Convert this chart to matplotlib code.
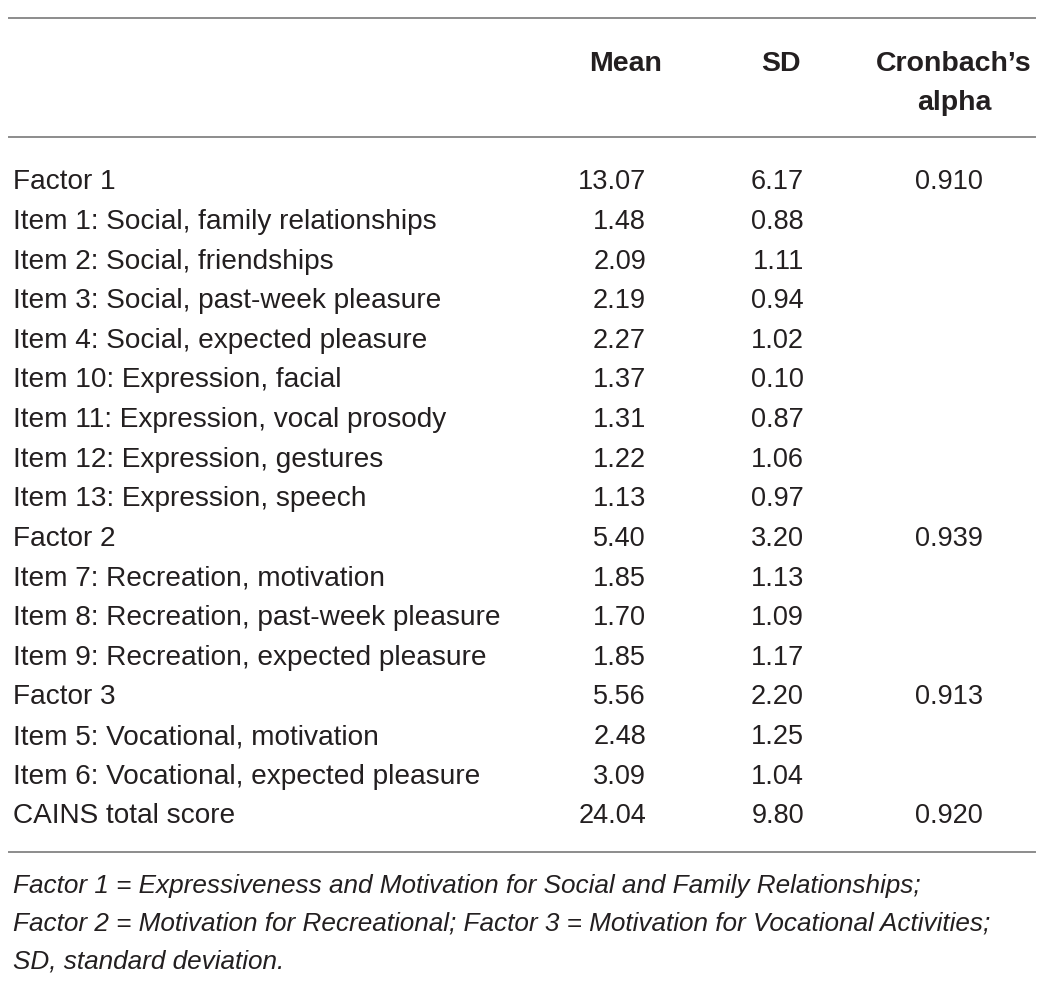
import matplotlib
matplotlib.use('Agg')
from matplotlib import pyplot as plt
from matplotlib.lines import Line2D

# table contents
row_labels = ['Factor 1',
              'Item 1: Social, family relationships',
              'Item 2: Social, friendships',
              'Item 3: Social, past-week pleasure',
              'Item 4: Social, expected pleasure',
              'Item 10: Expression, facial',
              'Item 11: Expression, vocal prosody',
              'Item 12: Expression, gestures',
              'Item 13: Expression, speech',
              'Factor 2',
              'Item 7: Recreation, motivation',
              'Item 8: Recreation, past-week pleasure',
              'Item 9: Recreation, expected pleasure',
              'Factor 3',
              'Item 5: Vocational, motivation',
              'Item 6: Vocational, expected pleasure',
              'CAINS total score']
mean_vals = ['13.07', '1.48', '2.09', '2.19', '2.27', '1.37', '1.31', '1.22', '1.13',
             '5.40', '1.85', '1.70', '1.85', '5.56', '2.48', '3.09', '24.04']
sd_vals = ['6.17', '0.88', '1.11', '0.94', '1.02', '0.10', '0.87', '1.06', '0.97',
           '3.20', '1.13', '1.09', '1.17', '2.20', '1.25', '1.04', '9.80']
alpha_vals = ['0.910', '', '', '', '', '', '', '', '',
              '0.939', '', '', '', '0.913', '', '', '0.920']
headers = ['Mean', 'SD', 'Cronbach\u2019s', 'alpha']
footnote = ['Factor 1 = Expressiveness and Motivation for Social and Family Relationships;',
            'Factor 2 = Motivation for Recreational; Factor 3 = Motivation for Vocational Activities;',
            'SD, standard deviation.']

W, H = 1052, 987
fig = plt.figure(figsize=(W / 100, H / 100), dpi=100)
fig.patch.set_facecolor('white')

txt_col = '#231f20'
line_col = '#8c8c8c'
fam = 'Liberation Sans'


def px(x, y):
    return x / W, 1 - y / H


def put(x, y, s, fs=19.5, **kw):
    # y is the baseline in pixels from the top
    fx, fy = px(x, y)
    fig.text(fx, fy, s, fontsize=fs, family=fam, color=txt_col, va='baseline', **kw)


def hline(y):
    x0, y0 = px(9, y)
    x1, _ = px(1035, y)
    fig.add_artist(Line2D([x0, x1], [y0, y0], color=line_col, lw=1.4, transform=fig.transFigure))


hline(19)
hline(138)
hline(852.5)

# header
put(662, 71, headers[0], fs=20.5, ha='right', weight='bold')
put(801, 71, headers[1], fs=20.5, ha='right', weight='bold')
put(954, 71, headers[2], fs=20.5, ha='center', weight='bold')
put(954, 110, headers[3], fs=20.5, ha='center', weight='bold')

y0, step = 189.3, 39.625
for i, lab in enumerate(row_labels):
    y = y0 + i * step
    put(13, y, lab, fs=20.2, ha='left')
    put(646, y, mean_vals[i], ha='right')
    put(804, y, sd_vals[i], ha='right')
    if alpha_vals[i]:
        put(949, y, alpha_vals[i], ha='center')

for i, line in enumerate(footnote):
    put(13, 893 + i * 38, line, fs=18.85, ha='left', style='italic')

plt.savefig('out.png', dpi=100)
